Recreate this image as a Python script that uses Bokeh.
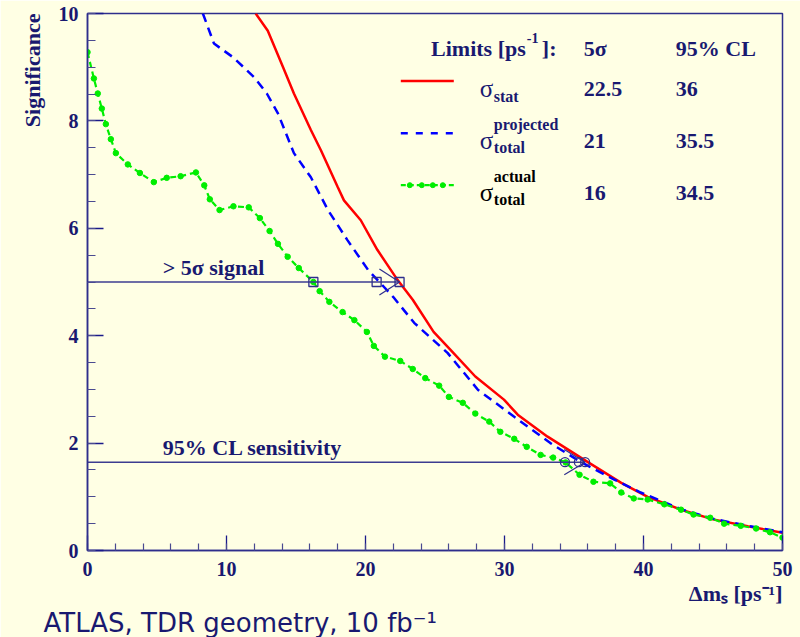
from bokeh.plotting import figure
from bokeh.models import Range1d, FixedTicker, Label, Title
from bokeh.embed import file_html
from bokeh.resources import INLINE

# ---------------- data ----------------
stat_x = [12.1, 12.97, 14.1, 14.85, 16.07, 16.8, 18.0, 18.45, 19.66, 20.85, 22.3, 23.4, 24.9,
          26.1, 27.9, 29.96, 30.95, 33.1, 36.0, 38.4, 40.3, 42.7, 45.0, 47.5, 50.0]
stat_y = [10.0, 9.68, 8.98, 8.51, 7.83, 7.45, 6.77, 6.52, 6.15, 5.6, 5.04, 4.67, 4.07,
          3.74, 3.24, 2.81, 2.53, 2.12, 1.645, 1.26, 1.0, 0.76, 0.58, 0.45, 0.33]

proj_x = [8.3, 9.1, 10.5, 12.0, 12.9, 13.7, 14.85, 16.07, 17.3, 18.7, 20.2, 21.0, 22.0, 23.5,
          25.9, 28.1, 30.7, 33.3, 35.5, 37.9, 39.8, 42.7, 45.0, 47.5, 50.0]
proj_y = [10.0, 9.44, 9.18, 8.81, 8.51, 8.14, 7.4, 6.95, 6.34, 5.78, 5.22, 5.0, 4.72, 4.24,
          3.68, 2.99, 2.49, 2.0, 1.645, 1.32, 1.08, 0.77, 0.59, 0.46, 0.34]

act_x = [0.0, 0.46, 0.74, 1.03, 1.32, 1.68, 2.04, 2.9, 3.77, 4.77, 5.7, 6.7, 7.8, 8.4, 8.8,
         9.5, 10.5, 11.6, 12.4, 13.1, 13.7, 14.4, 15.2, 16.25, 16.7, 17.4, 18.35, 19.2, 20.1,
         20.6, 21.4, 22.5, 23.4, 24.3, 25.3, 26.0, 27.0, 27.9, 28.9, 29.7, 30.7, 31.6, 32.6,
         33.5, 34.4, 35.4, 36.4, 37.6, 38.4, 39.3, 40.3, 41.5, 42.7, 43.6, 44.8, 45.8, 47.0,
         48.1, 49.1, 50.0]
act_y = [9.28, 8.79, 8.51, 8.23, 7.94, 7.66, 7.40, 7.19, 7.03, 6.86, 6.94, 6.97, 7.04, 6.8, 6.54,
         6.34, 6.41, 6.39, 6.19, 5.95, 5.71, 5.47, 5.26, 5.0, 4.83, 4.63, 4.44, 4.29, 4.07,
         3.81, 3.61, 3.53, 3.38, 3.21, 3.07, 2.86, 2.75, 2.55, 2.40, 2.21, 2.08, 1.93, 1.78,
         1.73, 1.64, 1.41, 1.28, 1.25, 1.08, 0.97, 0.95, 0.86, 0.76, 0.67, 0.61, 0.5, 0.46,
         0.41, 0.34, 0.24]

sig5_level = 5.0
cl95_level = 1.645
sig5_marks = [16.25, 20.8, 22.45]     # crossing points drawn as squares
cl95_marks = [34.35, 35.35, 35.8]     # crossing points drawn as circles
sig5_arrow = [21.0, 0.24]             # arrow-head back x, half-height
cl95_arrow = [34.3, 0.235]

x_major = [0, 10, 20, 30, 40, 50]
x_minor = list(range(0, 51, 2))
y_major = [0, 2, 4, 6, 8, 10]
y_minor = [i * 0.5 for i in range(21)]

table_rows = [("22.5", "36"), ("21", "35.5"), ("16", "34.5")]

# ---------------- style ----------------
BG = "#ffffe4"
NAVY = "#191970"
FRAME = "#2e2e8c"
RED = "#ff0000"
BLUE = "#0000ff"
GREEN = "#00ee00"
SERIF = "Liberation Serif"

p = figure(width=800, height=637, x_range=Range1d(0, 50), y_range=Range1d(0, 10),
           output_backend="svg", toolbar_location=None,
           min_border_left=87, min_border_right=18, min_border_top=13, min_border_bottom=86)
p.background_fill_color = BG
p.border_fill_color = BG
p.outline_line_color = FRAME
p.outline_line_width = 1.5
p.xgrid.visible = False
p.ygrid.visible = False

for ax in (p.xaxis[0], p.yaxis[0]):
    ax.axis_line_color = FRAME
    ax.axis_line_width = 1.5
    ax.major_tick_line_color = "#1a1a8a"
    ax.minor_tick_line_color = "#4a4a90"
    ax.major_tick_line_width = 1.3
    ax.minor_tick_line_width = 1.2
    ax.major_tick_out = 0
    ax.minor_tick_out = 0
    ax.major_label_text_font = SERIF
    ax.major_label_text_font_style = "bold"
    ax.major_label_text_font_size = "20px"
    ax.major_label_text_color = NAVY

p.xaxis.ticker = FixedTicker(ticks=x_major, minor_ticks=x_minor)
p.yaxis.ticker = FixedTicker(ticks=y_major, minor_ticks=y_minor)
p.xaxis.major_tick_in = 15
p.xaxis.minor_tick_in = 7
p.yaxis.major_tick_in = 16
p.yaxis.minor_tick_in = 8
p.xaxis.major_label_standoff = 11
p.yaxis.major_label_standoff = 9

# ---------------- axis titles and caption (outside the frame) ----------------
p.add_layout(Title(text="Significance", align="right", text_font=SERIF,
                   text_font_style="bold", text_font_size="22px", text_color=NAVY,
                   standoff=22), "left")
p.add_layout(Title(text="Δmₛ [ps⁻¹]", align="right", text_font=SERIF,
                   text_font_style="bold", text_font_size="22px", text_color=NAVY,
                   standoff=0), "below")
p.add_layout(Title(text="ATLAS, TDR geometry, 10 fb⁻¹", align="left", offset=-44,
                   text_font="DejaVu Sans", text_font_style="normal",
                   text_font_size="26px", text_color=NAVY, standoff=0), "below")

# ---------------- curves ----------------
p.line(stat_x, stat_y, line_color=RED, line_width=2.5)
p.line(proj_x, proj_y, line_color=BLUE, line_width=2.5, line_dash="9 6")
p.line(act_x, act_y, line_color=GREEN, line_width=2.2, line_dash="6 4")
p.scatter(act_x, act_y, marker="circle", size=5.5, color=GREEN)

# ---------------- reference levels ----------------
p.segment(x0=[0, 0], y0=[sig5_level, cl95_level], x1=[sig5_marks[-1], cl95_marks[-1]],
          y1=[sig5_level, cl95_level], line_color="#3c3c90", line_width=1.5)
p.segment(x0=[sig5_marks[-1]] * 2, y0=[sig5_level] * 2, x1=[sig5_arrow[0]] * 2,
          y1=[sig5_level + sig5_arrow[1], sig5_level - sig5_arrow[1]],
          line_color=FRAME, line_width=1.2)
p.segment(x0=[cl95_marks[-1]] * 2, y0=[cl95_level] * 2, x1=[cl95_arrow[0]] * 2,
          y1=[cl95_level + cl95_arrow[1], cl95_level - cl95_arrow[1]],
          line_color=FRAME, line_width=1.2)
p.scatter(sig5_marks, [sig5_level] * 3, marker="square", size=9, fill_color=None,
          line_color=FRAME, line_width=1.3)
p.scatter(cl95_marks, [cl95_level] * 3, marker="circle", size=9, fill_color=None,
          line_color=FRAME, line_width=1.3)

# ---------------- text helpers (pixel layout relative to frame bottom-left) ----------------
X0, Y0 = 86.7, 551.0
SX, SY = 695.0 / 50.0, 538.0 / 10.0


def lab(px, py, text, size, font=SERIF, style="bold", color=NAVY, align="left",
        baseline="alphabetic", angle=0.0):
    p.add_layout(Label(x=0, y=0, x_offset=px - X0, y_offset=Y0 - py, text=text,
                       text_font=font, text_font_style=style, text_font_size=f"{size}px",
                       text_color=color, text_align=align, text_baseline=baseline,
                       angle=angle))


def dx(px):
    return (px - X0) / SX


def dy(py):
    return (Y0 - py) / SY


# annotations in plot
lab(162, 268, "> 5σ signal", 22)
lab(162, 448, "95% CL sensitivity", 22)

# legend table
lab(525, 49, "Limits [ps", 22, align="right")
lab(526, 38, "-1", 14)
lab(541, 49, "]:", 22)
lab(583, 49, "5σ", 22)
lab(675, 49, "95% CL", 22)

row_y = [80.7, 133.0, 185.0]
row_base = [89.0, 141.0, 193.0]
p.line([dx(400), dx(453)], [dy(row_y[0])] * 2, line_color=RED, line_width=2.5)
p.line([dx(400), dx(453)], [dy(row_y[1])] * 2, line_color=BLUE, line_width=2.5, line_dash="7 8")
p.line([dx(400), dx(453)], [dy(row_y[2])] * 2, line_color=GREEN, line_width=2.2, line_dash="5 3")
p.scatter([dx(409), dx(421), dx(432), dx(442)], [dy(row_y[2])] * 4, marker="circle",
          size=5, color=GREEN)

lab(479, row_base[0], "σ", 25, style="normal")
lab(493, 97, "stat", 16)
lab(479, row_base[1], "σ", 25, style="normal")
lab(493, 125, "projected", 16)
lab(493, 148, "total", 16)
lab(479, row_base[2], "σ", 25, style="normal", color="#000000")
lab(493, 177, "actual", 16, color="#000000")
lab(493, 200, "total", 16, color="#000000")

for (a, b), yb in zip(table_rows, row_base):
    lab(583, yb, a, 22)
    lab(675, yb, b, 22)

open("out.html", "w").write(file_html(p, INLINE))
